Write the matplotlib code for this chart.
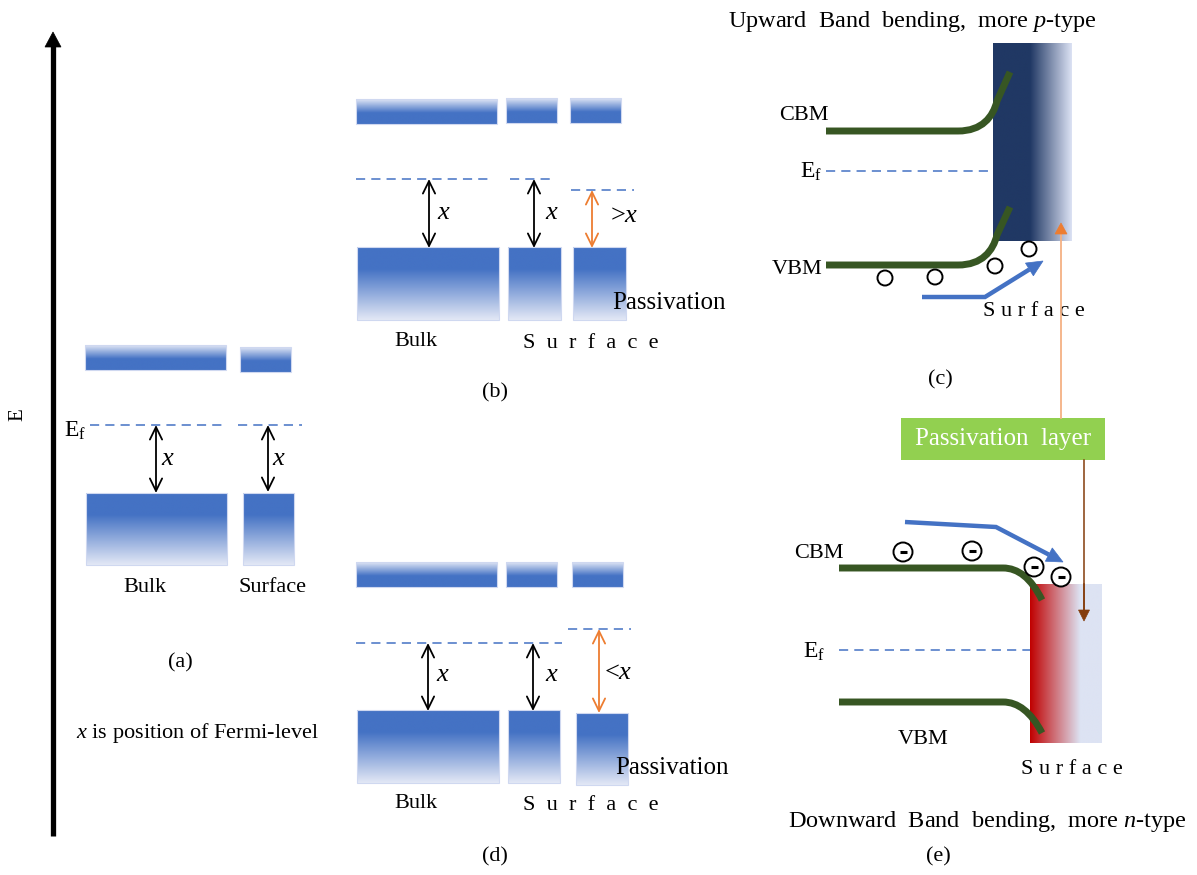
import numpy as np
import matplotlib
matplotlib.use("Agg")
import matplotlib.pyplot as plt
from matplotlib.patches import Circle, FancyArrowPatch, Rectangle, Polygon, PathPatch
from matplotlib.path import Path
from matplotlib.colors import to_rgba

plt.rcParams['font.family'] = ['Liberation Serif', 'DejaVu Serif']
plt.rcParams['mathtext.fontset'] = 'custom'
plt.rcParams['mathtext.rm'] = 'Liberation Serif'
plt.rcParams['mathtext.it'] = 'Liberation Serif:italic'

# ---- labels -------------------------------------------------------------
panel_tags = ["(a)", "(b)", "(c)", "(d)", "(e)"]
region_labels = ["Bulk", "Surface", "S  u  r  f  a  c  e", "S u r f a c e"]
gap_labels = ["$x$", ">$x$", "<$x$"]
band_labels = ["CBM", "VBM", r"$\mathrm{E}_\mathrm{f}$"]
titles = ["Upward  Band  bending,  more $p$-type",
          "Downward  Band  bending,  more $n$-type"]
note = "$x$ is position of Fermi-level"
layer_label = "Passivation  layer"
passiv_label = "Passivation"

# ---- colours ------------------------------------------------------------
BLUE = '#4472c4'
LIGHT = '#dfe5f5'
GREEN = '#375623'
ORANGE = '#ed7d31'
PEACH = '#f4b183'
BROWN = '#843c0c'
NAVY = '#203864'
RED = '#c00000'
LIME = '#92d050'

W, H = 1197, 875
fig = plt.figure(figsize=(W / 100, H / 100), dpi=100)
ax = fig.add_axes([0, 0, 1, 1])
ax.axis('off')


def gradient_box(x0, y0, x1, y1, stops, vertical=True, z=1):
    t = np.linspace(0, 1, 256)
    pos = [s[0] for s in stops]
    cols = np.array([to_rgba(s[1]) for s in stops])
    rgba = np.stack([np.interp(t, pos, cols[:, k]) for k in range(4)], axis=-1)
    img = rgba[:, None, :] if vertical else rgba[None, :, :]
    ax.imshow(img, extent=(x0, x1, y1, y0), origin='upper', aspect='auto',
              interpolation='bilinear', zorder=z)


def cb_bar(x0, y0, x1, y1):
    gradient_box(x0, y0, x1, y1, [(0, LIGHT), (0.55, BLUE), (1, BLUE)])
    ax.add_patch(Rectangle((x0, y0), x1 - x0, y1 - y0, fill=False,
                           ec='#cfd8f0', lw=0.8, zorder=2))


def vb_box(x0, y0, x1, y1):
    gradient_box(x0, y0, x1, y1, [(0, BLUE), (0.3, BLUE), (1, '#e3e8f6')])
    ax.add_patch(Rectangle((x0, y0), x1 - x0, y1 - y0, fill=False,
                           ec='#cfd8f0', lw=0.8, zorder=2))


def fermi(x0, x1, y):
    ax.plot([x0, x1], [y, y], color=BLUE, lw=1.1, ls=(0, (6, 4)), zorder=3)


def dbl_arrow(x, y0, y1, color='black'):
    ax.add_patch(FancyArrowPatch((x, y0), (x, y1),
                                 arrowstyle='<->,head_length=0.45,head_width=0.22',
                                 mutation_scale=20, color=color, lw=1.3,
                                 shrinkA=0, shrinkB=0, zorder=4))


def head(tip, frm, length, width, color, z=5):
    tip = np.array(tip, float)
    d = tip - np.array(frm, float)
    d /= np.hypot(*d)
    n = np.array([-d[1], d[0]])
    base = tip - d * length
    ax.add_patch(Polygon([tip, base + n * width / 2, base - n * width / 2],
                         closed=True, fc=color, ec=color, lw=0.5, zorder=z))
    return base


def txt(x, y, s, size=16, ha='center', **kw):
    ax.text(x, y, s, fontsize=size, ha=ha, va='center', **kw)


def band_curve(pts, z=4):
    verts = list(pts)
    codes = [Path.MOVETO, Path.LINETO, Path.CURVE4, Path.CURVE4, Path.CURVE4,
             Path.LINETO]
    ax.add_patch(PathPatch(Path(verts, codes), fill=False, ec=GREEN, lw=5,
                           capstyle='butt', joinstyle='round', zorder=z))


# ---- energy axis --------------------------------------------------------
ax.plot([53, 53], [836, 45], color='black', lw=3.8, solid_capstyle='butt')
head((53, 32), (53, 836), 15, 16, 'black')
txt(18, 415, "E", size=15, rotation=90)

# ---- panel (a) ----------------------------------------------------------
cb_bar(85, 345, 226, 370)
cb_bar(240, 347, 291, 372)
fermi(90, 222, 425)
fermi(238, 302, 425)
txt(64, 431, band_labels[2], size=17, ha='left')
dbl_arrow(156, 425, 493)
dbl_arrow(268, 425, 492)
txt(168, 459, gap_labels[0], size=19)
txt(279, 459, gap_labels[0], size=19)
vb_box(86, 493, 227, 565)
vb_box(243, 493, 294, 565)
txt(145, 587, region_labels[0])
txt(273, 587, region_labels[1])
txt(180, 663, panel_tags[0])
txt(197, 733, note)

# ---- panel (b) ----------------------------------------------------------
cb_bar(356, 99, 497, 124)
cb_bar(506, 98, 557, 123)
cb_bar(570, 98, 621, 123)
fermi(356, 492, 179)
fermi(510, 552, 179)
fermi(571, 634, 190)
dbl_arrow(429, 179, 248)
dbl_arrow(534, 179, 248)
dbl_arrow(592, 190, 248, ORANGE)
txt(444, 213, gap_labels[0], size=19)
txt(552, 213, gap_labels[0], size=19)
txt(624, 216, gap_labels[1], size=19)
vb_box(357, 247, 499, 320)
vb_box(508, 247, 561, 320)
vb_box(573, 247, 626, 320)
txt(612, 303, passiv_label, size=18, ha='left', zorder=6)
txt(416, 341, region_labels[0])
txt(591, 343, region_labels[2])
txt(495, 393, panel_tags[1])

# ---- panel (d) ----------------------------------------------------------
cb_bar(356, 562, 497, 587)
cb_bar(506, 562, 557, 587)
cb_bar(572, 562, 623, 587)
fermi(356, 562, 643)
fermi(568, 631, 629)
dbl_arrow(428, 643, 711)
dbl_arrow(533, 643, 711)
dbl_arrow(599, 629, 713, ORANGE)
txt(443, 675, gap_labels[0], size=19)
txt(552, 675, gap_labels[0], size=19)
txt(618, 673, gap_labels[2], size=19)
vb_box(357, 710, 499, 783)
vb_box(508, 710, 560, 783)
vb_box(576, 713, 628, 785)
txt(615, 768, passiv_label, size=18, ha='left', zorder=6)
txt(416, 803, region_labels[0])
txt(591, 805, region_labels[2])
txt(495, 857, panel_tags[3])

# ---- panel (c): upward bending ------------------------------------------
txt(912, 22, titles[0], size=17.5)
gradient_box(993, 43, 1072, 241, [(0, NAVY), (0.47, NAVY), (1, '#dce2f4')],
             vertical=False)
band_curve([(826, 131), (958, 131), (982, 131), (993, 117), (997, 101),
            (1010, 72)])
band_curve([(826, 265), (958, 265), (982, 265), (993, 251), (997, 235),
            (1010, 207)])
fermi(826, 993, 171)
txt(804, 116, band_labels[0])
txt(800, 172, band_labels[2], size=17, ha='left')
txt(797, 269, band_labels[1])
for cx, cy in [(885, 278), (935, 277), (995, 266), (1029, 249)]:
    ax.add_patch(Circle((cx, cy), 7.5, fc='white', ec='black', lw=1.4, zorder=5))
base = head((1043, 261), (985, 297), 16, 15, BLUE)
ax.plot([922, 985, base[0]], [297, 297, base[1]], color=BLUE, lw=3.2,
        solid_joinstyle='miter', solid_capstyle='butt', zorder=5)
txt(1034, 312, region_labels[3])
txt(940, 380, panel_tags[2])

# ---- passivation layer connectors ---------------------------------------
ax.add_patch(Rectangle((901, 418), 204, 42, fc=LIME, ec='none', zorder=3))
txt(1003, 439, layer_label, size=18, color='white', zorder=4)
ax.plot([1061, 1061], [418, 232], color=PEACH, lw=1.3, zorder=4)
head((1061, 223), (1061, 418), 11, 12, ORANGE)
ax.plot([1084, 1084], [460, 612], color=BROWN, lw=1.1, zorder=4)
head((1084, 621), (1084, 460), 11, 11, BROWN)

# ---- panel (e): downward bending ----------------------------------------
gradient_box(1030, 584, 1102, 743, [(0, RED), (0.7, '#dde3f3'), (1, '#dde3f3')],
             vertical=False)
ax.plot([1084, 1084], [584, 612], color=BROWN, lw=1.1, zorder=4)
band_curve([(839, 568), (1003, 568), (1018, 568), (1031, 578), (1042, 600),
            (1042, 600)])
band_curve([(839, 702), (1003, 702), (1018, 702), (1031, 712), (1042, 733),
            (1042, 733)])
fermi(839, 1030, 650)
txt(819, 553, band_labels[0])
txt(803, 652, band_labels[2], size=17, ha='left')
txt(923, 740, band_labels[1])
for cx, cy in [(903, 552), (972, 551), (1034, 567), (1061, 577)]:
    ax.add_patch(Circle((cx, cy), 9.5, fc='white', ec='black', lw=1.4, zorder=6))
    ax.plot([cx - 3.5, cx + 3.5], [cy, cy], color='black', lw=2.2,
            solid_capstyle='butt', zorder=7)
base = head((1063, 562), (996, 527), 16, 15, BLUE)
ax.plot([905, 996, base[0]], [522, 527, base[1]], color=BLUE, lw=3.2,
        solid_joinstyle='miter', solid_capstyle='butt', zorder=5)
txt(1072, 770, region_labels[3])
txt(987, 821, titles[1], size=17.5)
txt(938, 857, panel_tags[4])

ax.set_xlim(0, W)
ax.set_ylim(H, 0)
fig.savefig("out.png", dpi=100, facecolor='white')
